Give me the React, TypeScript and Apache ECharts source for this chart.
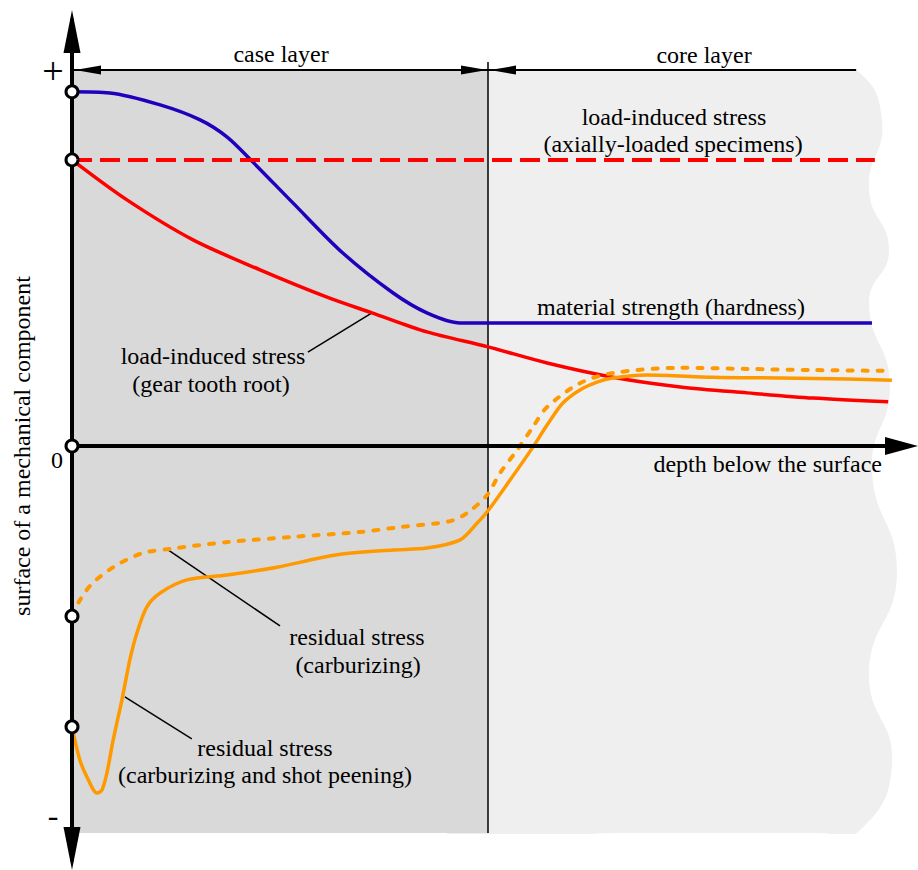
import React, { useEffect, useRef } from "react";
import * as echarts from "echarts";

// depth: 1.0 = case/core boundary; stress: +100 = "+" mark, 0 = zero line
const strengthDepth = [0, 0.091, 0.212, 0.308, 0.373, 0.435, 0.531, 0.651, 0.772, 0.853, 0.933, 1.029, 1.923];
const strengthStress = [94.7, 94.4, 91.2, 87.2, 82.6, 75.9, 65.0, 51.6, 40.9, 35.6, 32.9, 32.9, 32.9];

const axialDepth = [0, 1.93];
const axialStress = [76.5, 76.5];

const gearDepth = [0, 0.132, 0.291, 0.452, 0.613, 0.721, 0.853, 1.0, 1.142, 1.3, 1.462, 1.623, 1.781, 1.962];
const gearStress = [76.5, 65.8, 55.1, 47.1, 39.8, 35.6, 30.5, 26.5, 22.2, 18.4, 15.8, 14.2, 12.8, 11.8];

const carbDepth = [0, 0.019, 0.05, 0.108, 0.171, 0.236, 0.373, 0.531, 0.692, 0.788, 0.909, 0.95, 0.998, 1.029, 1.07, 1.108, 1.142, 1.221, 1.3, 1.462, 1.623, 1.781, 1.95];
const carbStress = [-45.5, -41.2, -36.6, -31.8, -28.6, -27.5, -25.7, -24.3, -23.0, -21.7, -20.1, -17.9, -13.1, -7.2, -1.1, 5.1, 10.4, 16.8, 19.5, 20.9, 20.6, 20.3, 20.1];

const peenDepth = [0, 0.019, 0.036, 0.06, 0.072, 0.084, 0.099, 0.12, 0.139, 0.156, 0.18, 0.212, 0.276, 0.373, 0.493, 0.637, 0.772, 0.853, 0.933, 0.974, 0.998, 1.053, 1.108, 1.142, 1.18, 1.221, 1.262, 1.3, 1.382, 1.541, 1.702, 1.863, 1.971];
const peenStress = [-75.1, -84.0, -88.5, -92.8, -92.0, -87.4, -78.6, -67.9, -57.2, -50.0, -43.0, -39.3, -35.8, -34.5, -32.4, -29.1, -27.8, -27.3, -25.1, -20.6, -17.6, -9.1, -0.3, 5.6, 11.5, 15.0, 17.1, 18.2, 19.0, 18.4, 18.2, 17.9, 17.6];

const markerStress = [94.7, 76.5, 0, -45.5, -75.1];

// layer extents
const boundaryDepth = 1.0;
const layerTop = 100.5;
const layerBottom = -103.5;
const dimEndDepth = 1.885;

// torn right edge of the core-layer block (wave crests and troughs)
const edgeDepth = [1.885, 1.947, 1.916, 1.964, 1.916, 1.966, 1.923, 1.983, 1.916, 1.971, 1.887];
const edgeStress = [100.5, 87.2, 68.4, 52.4, 38.2, 16.3, -6.4, -34.0, -60.7, -85.3, -103.5];

// leader lines [fromDepth, fromStress, toDepth, toStress]
const leaders = [
  [0.721, 35.6, 0.567, 25.1],
  [0.231, -27.8, 0.5, -48.1],
  [0.127, -67.1, 0.288, -78.3],
];

const pair = (xs: number[], ys: number[]) => xs.map((x, i) => [x, ys[i]]);

export default function App() {
  const ref = useRef<HTMLDivElement>(null);
  useEffect(() => {
    const chart = echarts.init(ref.current!, null, { renderer: "svg" });
    const font = "'Liberation Serif', 'Times New Roman', serif";
    const txt = (text: string, x: number, y: number, extra: any = {}, rot = 0) => ({
      type: "text",
      x,
      y,
      rotation: rot,
      silent: true,
      z: 10,
      style: {
        text,
        fontFamily: font,
        fontSize: 24,
        fill: "#000",
        align: "center",
        verticalAlign: "middle",
        ...extra,
      },
    });

    const option: any = {
      animation: false,
      grid: { left: 72, top: 20, width: 836, height: 840, containLabel: false, outerBoundsMode: "none" },
      xAxis: {
        type: "value",
        min: 0,
        max: 2.0096,
        z: 3,
        axisLine: {
          show: true,
          onZero: true,
          symbol: ["none", "triangle"],
          symbolSize: [18, 33],
          symbolOffset: [0, -6.5],
          lineStyle: { color: "#000", width: 4 },
        },
        axisTick: { show: false },
        axisLabel: { show: false },
        splitLine: { show: false },
      },
      yAxis: {
        type: "value",
        min: -110.7,
        max: 113.9,
        z: 3,
        axisLine: {
          show: true,
          onZero: true,
          symbol: ["triangle", "triangle"],
          symbolSize: [17, 43],
          symbolOffset: [11.5, -11.5],
          lineStyle: { color: "#000", width: 4 },
        },
        axisTick: { show: false },
        axisLabel: { show: false },
        splitLine: { show: false },
      },
      series: [
        {
          type: "custom",
          z: 1,
          silent: true,
          data: [[0, 0]],
          renderItem: (_p: any, api: any) => {
            const c = (x: number, y: number) => api.coord([x, y]);
            const [xL, yT] = c(0, layerTop);
            const [xB, yB] = c(boundaryDepth, layerBottom);
            const lightPts: number[][] = [
              c(0.9, layerTop), c(1.3, layerTop), c(1.6, layerTop), c(1.8, layerTop),
              ...edgeDepth.map((d, i) => c(d, edgeStress[i])),
              c(1.8, layerBottom), c(1.6, layerBottom), c(1.3, layerBottom), c(0.9, layerBottom),
              c(0.9, -50), c(0.9, 0), c(0.9, 50),
            ];
            const children: any[] = [
              {
                type: "polygon",
                shape: { points: lightPts, smooth: 0.5 },
                style: { fill: "#efefef" },
              },
              { type: "rect", shape: { x: xL, y: yT, width: xB - xL, height: yB - yT }, style: { fill: "#d9d9d9" } },
              // mask any smoothing bulge outside the layer block
              { type: "rect", shape: { x: xL + 3, y: yT - 30, width: 900, height: 29 }, style: { fill: "#fff" } },
              { type: "rect", shape: { x: xL + 3, y: yB + 1, width: 900, height: 40 }, style: { fill: "#fff" } },
            ];
            // boundary line
            const bTop = c(boundaryDepth, 102.7);
            children.push({
              type: "line",
              shape: { x1: xB, y1: bTop[1], x2: xB, y2: yB },
              style: { stroke: "#000", lineWidth: 1.5 },
            });
            // dimension line
            const dEnd = c(dimEndDepth, layerTop);
            children.push({
              type: "line",
              shape: { x1: xL, y1: yT, x2: dEnd[0], y2: yT },
              style: { stroke: "#000", lineWidth: 2 },
            });
            const arrow = (tip: number, dir: number) => ({
              type: "polygon",
              shape: { points: [[tip, yT], [tip + dir * 26, yT - 4.5], [tip + dir * 26, yT + 4.5]] },
              style: { fill: "#000" },
            });
            children.push(arrow(xL + 3, 1));
            children.push(arrow(xB - 1, -1));
            children.push(arrow(xB + 2, 1));
            leaders.forEach((l) => {
              const a = c(l[0], l[1]);
              const b = c(l[2], l[3]);
              children.push({
                type: "line",
                shape: { x1: a[0], y1: a[1], x2: b[0], y2: b[1] },
                style: { stroke: "#000", lineWidth: 1.5 },
              });
            });
            return { type: "group", children };
          },
        },
        {
          name: "material strength (hardness)",
          type: "line",
          z: 2,
          data: pair(strengthDepth, strengthStress),
          smooth: 0.3,
          showSymbol: false,
          lineStyle: { color: "#2200bb", width: 3.5 },
        },
        {
          name: "load-induced stress (axially-loaded specimens)",
          type: "line",
          z: 2,
          data: pair(axialDepth, axialStress),
          showSymbol: false,
          lineStyle: { color: "#ff0000", width: 4, type: [20, 8] },
        },
        {
          name: "load-induced stress (gear tooth root)",
          type: "line",
          z: 2,
          data: pair(gearDepth, gearStress),
          smooth: 0.3,
          showSymbol: false,
          lineStyle: { color: "#ff0000", width: 3.5 },
        },
        {
          name: "residual stress (carburizing)",
          type: "line",
          z: 2,
          data: pair(carbDepth, carbStress),
          smooth: 0.3,
          showSymbol: false,
          lineStyle: { color: "#ff9900", width: 4, type: [5, 10], cap: "round" },
        },
        {
          name: "residual stress (carburizing and shot peening)",
          type: "line",
          z: 2,
          data: pair(peenDepth, peenStress),
          smooth: 0.3,
          showSymbol: false,
          lineStyle: { color: "#ff9900", width: 3.5 },
        },
        {
          type: "scatter",
          z: 5,
          data: markerStress.map((s) => [0, s]),
          symbol: "circle",
          symbolSize: 12,
          itemStyle: { color: "#fff", borderColor: "#000", borderWidth: 3, opacity: 1 },
        },
      ],
      graphic: [
        txt("case layer", 281, 54),
        txt("core layer", 704, 55),
        txt("load-induced stress", 674, 117),
        txt("(axially-loaded specimens)", 673, 144),
        txt("material strength (hardness)", 671, 307),
        txt("load-induced stress", 213, 356),
        txt("(gear tooth root)", 211, 384),
        txt("depth below the surface", 882, 464, { align: "right" }),
        txt("residual stress", 357, 637),
        txt("(carburizing)", 358, 665),
        txt("residual stress", 265, 748),
        txt("(carburizing and shot peening)", 265, 775),
        txt("+", 53, 71, { fontSize: 38 }),
        txt("0", 57, 460),
        txt("-", 53, 815, { fontSize: 32 }),
        txt("surface of a mechanical component", 22, 446, {}, Math.PI / 2),
      ],
    };
    chart.setOption(option);
    return () => chart.dispose();
  }, []);
  return <div ref={ref} style={{ position: "absolute", left: 0, top: 0, width: 918, height: 870 }} />;
}
